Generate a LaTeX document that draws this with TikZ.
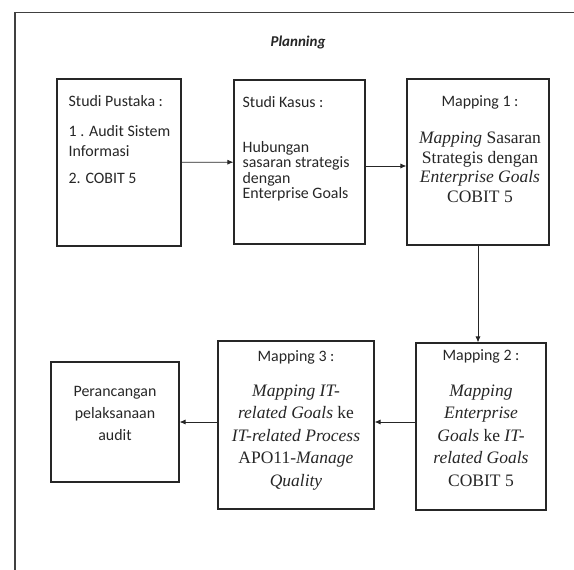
\documentclass[tikz,border=0pt]{standalone}
\usepackage{fontspec}
\setmainfont{Carlito}
\newfontfamily\tmsfont{Liberation Serif}
\usetikzlibrary{arrows.meta}

\begin{document}
\begin{tikzpicture}[x=1pt,y=-1pt,
  box/.style={shape=rectangle,draw=black!85,line width=1.1pt,inner sep=0pt},
  sans/.style={inner sep=0pt,text=black!85,font=\fontsize{15.9}{20}\selectfont},
  serif/.style={inner sep=0pt,text=black!85,align=center,font=\tmsfont\fontsize{17.5}{22.5}\selectfont},
  arr/.style={draw=black!85,line width=0.8pt,-{Latex[length=6pt,width=5pt]}}]
\useasboundingbox (0,0) rectangle (574,570);
% frame of the page
\draw[line width=1.3pt,black!75] (15,570) -- (15,12.5) -- (574,12.5);
\draw (298,46) node (plan) [anchor=base,text=black!85,font=\bfseries\itshape\fontsize{15}{18}\selectfont] {Planning};
% top row (multi-line nodes sit on the baseline of their last line)
\draw (119,162.5) node (stpus) [box,minimum width=124,minimum height=167] {};
\draw (stpus.north west) ++(12,28) node (stpushd) [sans,anchor=base west] {Studi Pustaka :};
\draw (stpus.north west) ++(12,105) node (stpusbd) [sans,anchor=base west,align=left] {1 . Audit Sistem\\ Informasi\\[7pt] 2. COBIT 5};
\draw (299.5,162) node (stkas) [box,minimum width=131,minimum height=164] {};
\draw (stkas.north west) ++(9,28) node (stkashd) [sans,anchor=base west] {Studi Kasus :};
\draw (stkas.north west) ++(9,119) node (stkasbd) [sans,anchor=base west,align=left,font=\fontsize{15.9}{15.4}\selectfont] {Hubungan\\ sasaran strategis\\ dengan\\ Enterprise Goals};
\draw (478,162) node (map1) [box,minimum width=142,minimum height=166] {};
\draw (map1.north) ++(2,28) node (map1hd) [sans,anchor=base] {Mapping 1 :};
\draw (map1.north) ++(2,124) node (map1bd) [serif,anchor=base,font=\tmsfont\fontsize{17.5}{19.7}\selectfont] {\textit{Mapping} Sasaran\\ Strategis dengan\\ \textit{Enterprise Goals}\\ COBIT 5};
% bottom row
\draw (481,426.5) node (map2) [box,minimum width=130,minimum height=167] {};
\draw (map2.north) ++(0,18.5) node (map2hd) [sans,anchor=base] {Mapping 2 :};
\draw (map2.north) ++(0,144) node (map2bd) [serif,anchor=base] {\textit{Mapping}\\ \textit{Enterprise}\\ \textit{Goals} ke \textit{IT-}\\ \textit{related Goals}\\ COBIT 5};
\draw (296,425) node (map3) [box,minimum width=156,minimum height=168] {};
\draw (map3.north) ++(0,21) node (map3hd) [sans,anchor=base] {Mapping 3 :};
\draw (map3.north) ++(0,146) node (map3bd) [serif,anchor=base] {\textit{Mapping IT-}\\ \textit{related Goals} ke\\ \textit{IT-related Process}\\ APO11-\textit{Manage}\\ \textit{Quality}};
\draw (115,422) node (rancang) [box,minimum width=128,minimum height=120] {};
\draw (rancang.north) ++(0,79) node (rancangtx) [sans,anchor=base,align=center,font=\fontsize{15.9}{22}\selectfont] {Perancangan\\ pelaksanaan\\ audit};
% arrows
\draw[arr] (stpus) -- (stkas);
\draw[arr] ([yshift=-4pt]stkas.east) -- ([yshift=-4pt]map1.west);
\draw[arr] (map1.south) -- (map1.south |- map2.north);
\draw[arr] (map2.west |- rancang) -- (map3.east |- rancang);
\draw[arr] (map3.west |- rancang) -- (rancang);
\end{tikzpicture}
\end{document}
